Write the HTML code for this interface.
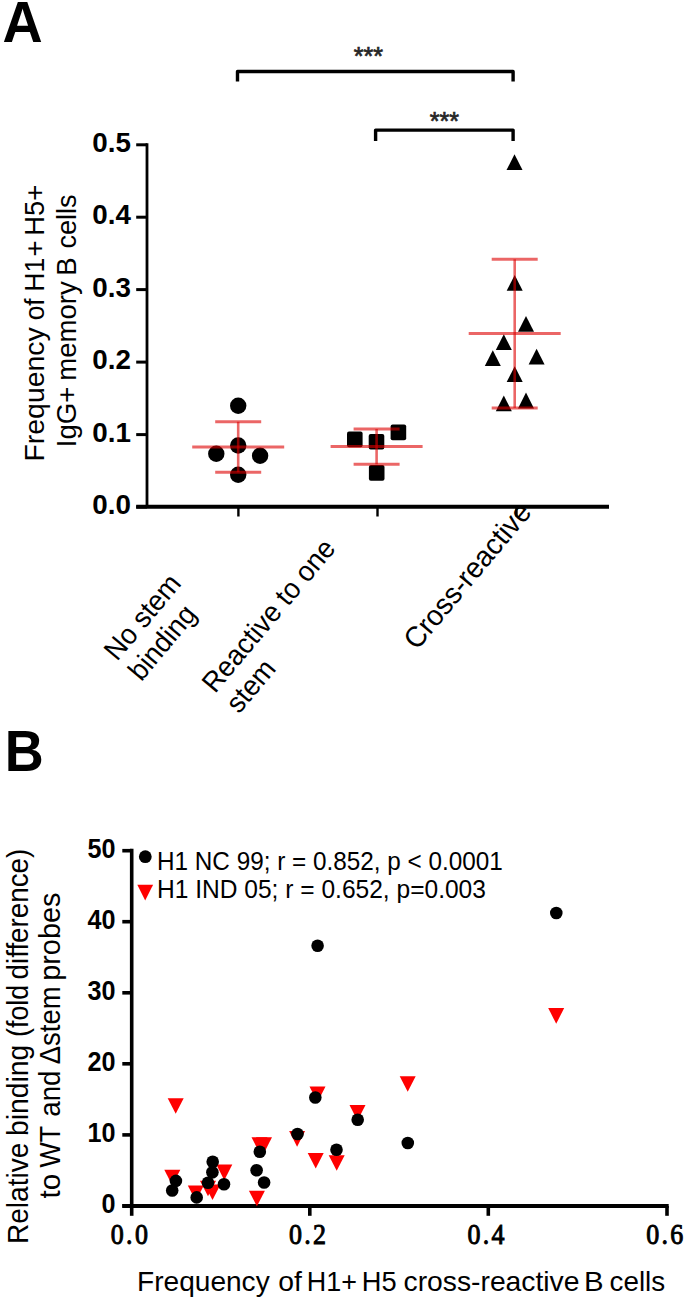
<!DOCTYPE html>
<html><head><meta charset="utf-8"><style>
html,body{margin:0;padding:0;background:#fff;width:685px;height:1302px;overflow:hidden}
svg{display:block}
</style></head><body>
<svg width="685" height="1302" viewBox="0 0 685 1302">
<text transform="translate(2.50,41.60) scale(1.000,1.038)" font-family="Liberation Sans" font-size="55.6" font-weight="bold">A</text>
<line x1="147" y1="143.2" x2="147" y2="507" stroke="#000" stroke-width="2.8"/>
<line x1="136.2" y1="507.0" x2="147" y2="507.0" stroke="#000" stroke-width="3"/>
<text transform="translate(131.00,514.20)" font-family="Liberation Sans" font-size="27.8" text-anchor="end" font-weight="bold">0.0</text>
<line x1="136.2" y1="434.6" x2="147" y2="434.6" stroke="#000" stroke-width="3"/>
<text transform="translate(131.00,441.75)" font-family="Liberation Sans" font-size="27.8" text-anchor="end" font-weight="bold">0.1</text>
<line x1="136.2" y1="362.1" x2="147" y2="362.1" stroke="#000" stroke-width="3"/>
<text transform="translate(131.00,369.30)" font-family="Liberation Sans" font-size="27.8" text-anchor="end" font-weight="bold">0.2</text>
<line x1="136.2" y1="289.6" x2="147" y2="289.6" stroke="#000" stroke-width="3"/>
<text transform="translate(131.00,296.85)" font-family="Liberation Sans" font-size="27.8" text-anchor="end" font-weight="bold">0.3</text>
<line x1="136.2" y1="217.2" x2="147" y2="217.2" stroke="#000" stroke-width="3"/>
<text transform="translate(131.00,224.40)" font-family="Liberation Sans" font-size="27.8" text-anchor="end" font-weight="bold">0.4</text>
<line x1="136.2" y1="144.8" x2="147" y2="144.8" stroke="#000" stroke-width="3"/>
<text transform="translate(131.00,151.95)" font-family="Liberation Sans" font-size="27.8" text-anchor="end" font-weight="bold">0.5</text>
<line x1="136.2" y1="506.8" x2="609" y2="506.8" stroke="#000" stroke-width="4"/>
<line x1="238.4" y1="506" x2="238.4" y2="516.5" stroke="#000" stroke-width="2.4"/>
<line x1="377.5" y1="506" x2="377.5" y2="516.5" stroke="#000" stroke-width="2.4"/>
<line x1="516.5" y1="506" x2="516.5" y2="516.5" stroke="#000" stroke-width="2.4"/>
<text transform="translate(43.90,461.47) rotate(-90) scale(1.063,1.040)" font-family="Liberation Sans" font-size="26.72">Frequency</text>
<text transform="translate(43.90,320.36) rotate(-90) scale(0.989,1.040)" font-family="Liberation Sans" font-size="26.72">of</text>
<text transform="translate(43.90,291.74) rotate(-90) scale(1.000,1.040)" font-family="Liberation Sans" font-size="26.72">H1</text>
<text transform="translate(43.90,256.47) rotate(-90) scale(1.026,1.040)" font-family="Liberation Sans" font-size="26.72">+</text>
<text transform="translate(43.90,235.79) rotate(-90) scale(1.025,1.040)" font-family="Liberation Sans" font-size="26.72">H5+</text>
<text transform="translate(76.00,447.28) rotate(-90) scale(1.008,1.040)" font-family="Liberation Sans" font-size="27.36">IgG+</text>
<text transform="translate(76.00,380.69) rotate(-90) scale(1.006,1.040)" font-family="Liberation Sans" font-size="27.36">memory</text>
<text transform="translate(76.00,275.71) rotate(-90) scale(1.011,1.040)" font-family="Liberation Sans" font-size="27.36">B</text>
<text transform="translate(76.00,248.62) rotate(-90) scale(0.992,1.040)" font-family="Liberation Sans" font-size="27.36">cells</text>
<text transform="translate(117.10,662.00) rotate(-50) scale(1.000,1.040)" font-family="Liberation Sans" font-size="27.3">No stem</text>
<text transform="translate(141.20,682.30) rotate(-50) scale(1.000,1.040)" font-family="Liberation Sans" font-size="27.3">binding</text>
<text transform="translate(214.90,694.30) rotate(-50) scale(1.000,1.040)" font-family="Liberation Sans" font-size="27.3">Reactive to one</text>
<text transform="translate(239.00,714.60) rotate(-50) scale(1.000,1.040)" font-family="Liberation Sans" font-size="27.3">stem</text>
<text transform="translate(416.90,651.10) rotate(-50) scale(1.000,1.040)" font-family="Liberation Sans" font-size="28.0">Cross-reactive</text>
<path d="M237.5,81.5 V71.5 H513.1 V81.5" fill="none" stroke="#000" stroke-width="3.4" stroke-linejoin="round"/>
<path d="M375.6,141 V130.1 H513.1 V141" fill="none" stroke="#000" stroke-width="3.4" stroke-linejoin="round"/>
<text transform="translate(368.40,65.00)" font-family="Liberation Sans" font-size="25" text-anchor="middle" fill="#262626" stroke="#262626" stroke-width="0.7">***</text>
<text transform="translate(444.30,129.50)" font-family="Liberation Sans" font-size="25" text-anchor="middle" fill="#262626" stroke="#262626" stroke-width="0.7">***</text>
<circle cx="238.2" cy="405.8" r="8.2"/>
<circle cx="238.2" cy="445.5" r="8.2"/>
<circle cx="216.3" cy="453.8" r="8.2"/>
<circle cx="260.1" cy="455.7" r="8.2"/>
<circle cx="238.2" cy="474.7" r="8.2"/>
<rect x="347.0" y="431.6" width="15.6" height="15.6" rx="2"/>
<rect x="368.7" y="434.0" width="15.6" height="15.6" rx="2"/>
<rect x="390.6" y="424.6" width="15.6" height="15.6" rx="2"/>
<rect x="368.9" y="465.1" width="15.6" height="15.6" rx="2"/>
<path d="M514.5,154.3 L522.5,170.1 L506.5,170.1 Z"/>
<path d="M514.7,275 L522.7,290.8 L506.7,290.8 Z"/>
<path d="M526,315.9 L534.0,331.7 L518.0,331.7 Z"/>
<path d="M503.8,334.2 L511.8,350.0 L495.8,350.0 Z"/>
<path d="M492.8,350.2 L500.8,366.0 L484.8,366.0 Z"/>
<path d="M536.6,348.8 L544.6,364.6 L528.6,364.6 Z"/>
<path d="M514.7,366.3 L522.7,382.1 L506.7,382.1 Z"/>
<path d="M503.8,395.5 L511.8,411.3 L495.8,411.3 Z"/>
<path d="M526,392.6 L534.0,408.4 L518.0,408.4 Z"/>
<g stroke="#ee2b2e" fill="none"><line x1="192.2" y1="446.9" x2="284.2" y2="446.9" stroke-width="3" stroke="#dd0000" stroke-opacity="0.6"/><line x1="215.2" y1="421.8" x2="261.2" y2="421.8" stroke-width="3" stroke="#dd0000" stroke-opacity="0.6"/><line x1="215.2" y1="472.2" x2="261.2" y2="472.2" stroke-width="3" stroke="#dd0000" stroke-opacity="0.6"/><line x1="238.2" y1="421.8" x2="238.2" y2="472.2" stroke-width="2.6" stroke="#dd0000" stroke-opacity="0.6"/></g>
<g stroke="#ee2b2e" fill="none"><line x1="330.6" y1="446.5" x2="422.6" y2="446.5" stroke-width="3" stroke="#dd0000" stroke-opacity="0.6"/><line x1="353.6" y1="429" x2="399.6" y2="429" stroke-width="3" stroke="#dd0000" stroke-opacity="0.6"/><line x1="353.6" y1="464.3" x2="399.6" y2="464.3" stroke-width="3" stroke="#dd0000" stroke-opacity="0.6"/><line x1="376.6" y1="429" x2="376.6" y2="464.3" stroke-width="2.6" stroke="#dd0000" stroke-opacity="0.6"/></g>
<g stroke="#ee2b2e" fill="none"><line x1="468.70000000000005" y1="333.4" x2="560.7" y2="333.4" stroke-width="3" stroke="#dd0000" stroke-opacity="0.6"/><line x1="491.70000000000005" y1="259.3" x2="537.7" y2="259.3" stroke-width="3" stroke="#dd0000" stroke-opacity="0.6"/><line x1="491.70000000000005" y1="407.9" x2="537.7" y2="407.9" stroke-width="3" stroke="#dd0000" stroke-opacity="0.6"/><line x1="514.7" y1="259.3" x2="514.7" y2="407.9" stroke-width="2.6" stroke="#dd0000" stroke-opacity="0.6"/></g>
<text transform="translate(4.70,770.50) scale(1.000,1.055)" font-family="Liberation Sans" font-size="54" font-weight="bold">B</text>
<line x1="131.7" y1="848.7" x2="131.7" y2="1208" stroke="#000" stroke-width="3.6"/>
<line x1="122.3" y1="1205.9" x2="131.7" y2="1205.9" stroke="#000" stroke-width="3.6"/>
<text transform="translate(115.50,1212.90) scale(0.900,1.000)" font-family="Liberation Sans" font-size="28" text-anchor="end" font-weight="bold">0</text>
<line x1="122.3" y1="1134.9" x2="131.7" y2="1134.9" stroke="#000" stroke-width="3.6"/>
<text transform="translate(115.50,1141.85) scale(0.900,1.000)" font-family="Liberation Sans" font-size="28" text-anchor="end" font-weight="bold">10</text>
<line x1="122.3" y1="1063.8" x2="131.7" y2="1063.8" stroke="#000" stroke-width="3.6"/>
<text transform="translate(115.50,1070.80) scale(0.900,1.000)" font-family="Liberation Sans" font-size="28" text-anchor="end" font-weight="bold">20</text>
<line x1="122.3" y1="992.8" x2="131.7" y2="992.8" stroke="#000" stroke-width="3.6"/>
<text transform="translate(115.50,999.75) scale(0.900,1.000)" font-family="Liberation Sans" font-size="28" text-anchor="end" font-weight="bold">30</text>
<line x1="122.3" y1="921.7" x2="131.7" y2="921.7" stroke="#000" stroke-width="3.6"/>
<text transform="translate(115.50,928.70) scale(0.900,1.000)" font-family="Liberation Sans" font-size="28" text-anchor="end" font-weight="bold">40</text>
<line x1="122.3" y1="850.7" x2="131.7" y2="850.7" stroke="#000" stroke-width="3.6"/>
<text transform="translate(115.50,857.65) scale(0.900,1.000)" font-family="Liberation Sans" font-size="28" text-anchor="end" font-weight="bold">50</text>
<line x1="122.3" y1="1206.1" x2="668.7" y2="1206.1" stroke="#000" stroke-width="4"/>
<line x1="131.7" y1="1206" x2="131.7" y2="1215.8" stroke="#000" stroke-width="3.6"/>
<text transform="translate(130.50,1244.00) scale(0.880,1.000)" font-family="Liberation Serif" font-size="29.5" text-anchor="middle" stroke="#000" stroke-width="1.0" letter-spacing="2.6">0.0</text>
<line x1="309.8" y1="1206" x2="309.8" y2="1215.8" stroke="#000" stroke-width="3.6"/>
<text transform="translate(308.60,1244.00) scale(0.880,1.000)" font-family="Liberation Serif" font-size="29.5" text-anchor="middle" stroke="#000" stroke-width="1.0" letter-spacing="2.6">0.2</text>
<line x1="488.3" y1="1206" x2="488.3" y2="1215.8" stroke="#000" stroke-width="3.6"/>
<text transform="translate(487.10,1244.00) scale(0.880,1.000)" font-family="Liberation Serif" font-size="29.5" text-anchor="middle" stroke="#000" stroke-width="1.0" letter-spacing="2.6">0.4</text>
<line x1="667" y1="1206" x2="667" y2="1215.8" stroke="#000" stroke-width="3.6"/>
<text transform="translate(665.80,1244.00) scale(0.880,1.000)" font-family="Liberation Serif" font-size="29.5" text-anchor="middle" stroke="#000" stroke-width="1.0" letter-spacing="2.6">0.6</text>
<text transform="translate(137.05,1291.20) scale(1.023,1.030)" font-family="Liberation Sans" font-size="27.46">Frequency</text>
<text transform="translate(278.37,1291.20) scale(1.031,1.030)" font-family="Liberation Sans" font-size="27.46">of</text>
<text transform="translate(306.84,1291.20) scale(0.982,1.030)" font-family="Liberation Sans" font-size="27.46">H1+</text>
<text transform="translate(361.82,1291.20) scale(0.993,1.030)" font-family="Liberation Sans" font-size="27.46">H5</text>
<text transform="translate(403.53,1291.20) scale(1.030,1.030)" font-family="Liberation Sans" font-size="27.46">cross-reactive</text>
<text transform="translate(583.95,1291.20) scale(1.069,1.030)" font-family="Liberation Sans" font-size="27.46">B</text>
<text transform="translate(609.55,1291.20) scale(1.013,1.030)" font-family="Liberation Sans" font-size="27.46">cells</text>
<text transform="translate(28.00,1244.05) rotate(-90) scale(1.017,1.040)" font-family="Liberation Sans" font-size="27.6">Relative</text>
<text transform="translate(28.00,1136.04) rotate(-90) scale(1.025,1.040)" font-family="Liberation Sans" font-size="27.6">binding</text>
<text transform="translate(28.00,1036.91) rotate(-90) scale(0.971,1.040)" font-family="Liberation Sans" font-size="27.6">(fold</text>
<text transform="translate(28.00,979.41) rotate(-90) scale(1.006,1.040)" font-family="Liberation Sans" font-size="27.6">difference)</text>
<text transform="translate(60.10,1198.45) rotate(-90) scale(1.076,1.040)" font-family="Liberation Sans" font-size="27.57">to</text>
<text transform="translate(60.10,1167.53) rotate(-90) scale(0.973,1.040)" font-family="Liberation Sans" font-size="27.57">WT</text>
<text transform="translate(60.10,1116.75) rotate(-90) scale(1.004,1.040)" font-family="Liberation Sans" font-size="27.57">and</text>
<text transform="translate(60.10,1064.32) rotate(-90) scale(0.997,1.040)" font-family="Liberation Sans" font-size="27.57">Δstem</text>
<text transform="translate(60.10,980.77) rotate(-90) scale(1.046,1.040)" font-family="Liberation Sans" font-size="27.57">probes</text>
<circle cx="145.3" cy="856.7" r="6.4"/>
<path d="M137.3,884.7 H153.1 L145.2,900.5 Z" fill="#f00"/>
<text transform="translate(157.00,870.30) scale(1.000,1.040)" font-family="Liberation Sans" font-size="24.3">H1 NC 99; r = 0.852, p &lt; 0.0001</text>
<text transform="translate(157.00,898.10) scale(1.011,1.040)" font-family="Liberation Sans" font-size="24.3">H1 IND 05; r = 0.652, p=0.003</text>
<path d="M548.2,1008.1 H564.2 L556.2,1023.7 Z" fill="#f00"/>
<path d="M399.7,1076.2 H415.7 L407.7,1091.8 Z" fill="#f00"/>
<path d="M309.5,1086.6 H325.5 L317.5,1102.2 Z" fill="#f00"/>
<path d="M349.5,1105.1 H365.5 L357.5,1120.7 Z" fill="#f00"/>
<path d="M289.1,1131.1 H305.1 L297.1,1146.7 Z" fill="#f00"/>
<path d="M307.7,1153 H323.7 L315.7,1168.6 Z" fill="#f00"/>
<path d="M328.7,1155.2 H344.7 L336.7,1170.8 Z" fill="#f00"/>
<path d="M251.5,1137.3 H267.5 L259.5,1152.9 Z" fill="#f00"/>
<path d="M256.0,1137.3 H272.0 L264,1152.9 Z" fill="#f00"/>
<path d="M248.9,1190.7 H264.9 L256.9,1206.3 Z" fill="#f00"/>
<path d="M167.7,1098.2 H183.7 L175.7,1113.8 Z" fill="#f00"/>
<path d="M164.3,1169.8 H180.3 L172.3,1185.4 Z" fill="#f00"/>
<path d="M187.8,1185.4 H203.8 L195.8,1201.0 Z" fill="#f00"/>
<path d="M200.0,1180.7 H216.0 L208,1196.3 Z" fill="#f00"/>
<path d="M204.5,1184.5 H220.5 L212.5,1200.1 Z" fill="#f00"/>
<path d="M216.3,1164.6 H232.3 L224.3,1180.2 Z" fill="#f00"/>
<circle cx="317.6" cy="945.8" r="6.3"/>
<circle cx="556.3" cy="913" r="6.3"/>
<circle cx="315.3" cy="1097.5" r="6.3"/>
<circle cx="297.5" cy="1134" r="6.3"/>
<circle cx="357.7" cy="1119.7" r="6.3"/>
<circle cx="336.5" cy="1149.8" r="6.3"/>
<circle cx="407.8" cy="1143" r="6.3"/>
<circle cx="259.8" cy="1151.8" r="6.3"/>
<circle cx="256.6" cy="1170.2" r="6.3"/>
<circle cx="264.1" cy="1182.5" r="6.3"/>
<circle cx="175.9" cy="1180.9" r="6.3"/>
<circle cx="172.2" cy="1190.5" r="6.3"/>
<circle cx="196.7" cy="1197.4" r="6.3"/>
<circle cx="208" cy="1182.8" r="6.3"/>
<circle cx="212.4" cy="1172.3" r="6.3"/>
<circle cx="212.7" cy="1161.7" r="6.3"/>
<circle cx="224" cy="1184.3" r="6.3"/>
</svg>
</body></html>
